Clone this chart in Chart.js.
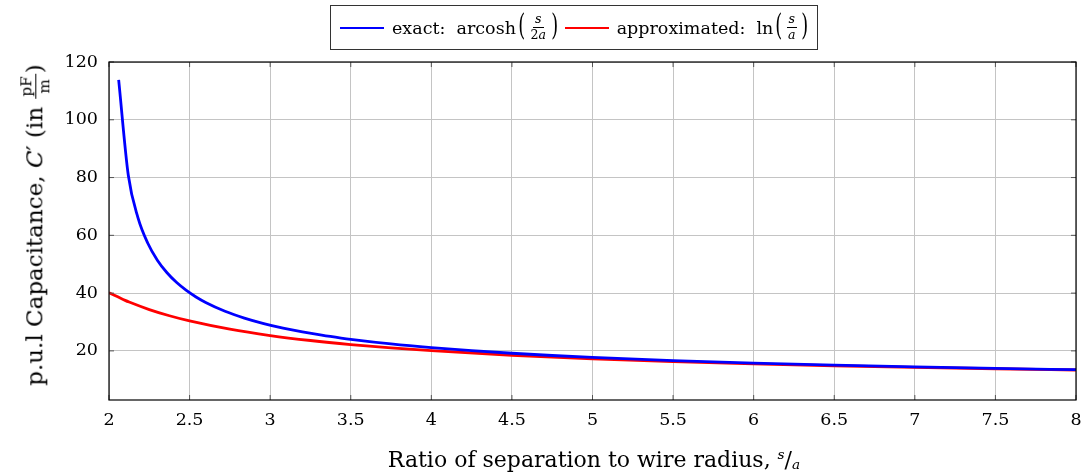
<!DOCTYPE html>
<html>
<head>
<meta charset="utf-8">
<script src="https://cdn.jsdelivr.net/npm/chart.js@4/dist/chart.umd.min.js"></script>
<style>
  html, body { margin: 0; padding: 0; background: #fff; }
  #wrap { position: relative; width: 1085px; height: 475px; font-family: "DejaVu Serif", serif; color: #000; }
  canvas { position: absolute; left: 0; top: 0; }
  .frac { display: inline-flex; flex-direction: column; align-items: center; vertical-align: middle; font-size: 72%; line-height: 1; margin: 0 1px; }
  .frac .num { padding: 0 2px 1px 2px; border-bottom: 1px solid #000; }
  .frac .den { padding: 1px 2px 0 2px; }
  .par { display: inline-block; font-size: 170%; transform: scaleX(0.6); vertical-align: middle; line-height: 1; position: relative; top: -3px; font-weight: 300; }
  #legend { position: absolute; left: 330px; top: 5px; width: 486px; height: 43px; border: 1px solid #333; font-size: 17.5px; display: flex; align-items: center; white-space: nowrap; }
  .sw { display: inline-block; width: 44px; height: 0; border-top: 2.8px solid; margin: 0 8px 0 9px; vertical-align: middle; }
  #ytitle { position: absolute; left: 36px; top: 225px; transform: translate(-50%, -50%) rotate(-90deg); font-size: 23px; white-space: nowrap; }
  #xtitle { position: absolute; left: 594px; top: 459px; transform: translate(-50%, -50%); font-size: 22px; white-space: nowrap; }
  .sup { font-size: 62%; vertical-align: 0.55em; font-style: italic; }
  .sub { font-size: 62%; vertical-align: -0.15em; font-style: italic; }
</style>
</head>
<body>
<div id="wrap">
  <canvas id="c" width="1085" height="475"></canvas>
  <div id="legend">
    <span class="sw" style="border-color:#0000ff"></span><span>exact:&nbsp; arcosh</span><span class="par">(</span><span class="frac"><span class="num"><i>s</i></span><span class="den">2<i>a</i></span></span><span class="par">)</span>
    <span class="sw" style="border-color:#ff0000; margin-left:4px"></span><span>approximated:&nbsp; ln</span><span class="par">(</span><span class="frac"><span class="num"><i>s</i></span><span class="den"><i>a</i></span></span><span class="par">)</span>
  </div>
  <div id="ytitle">p.u.l Capacitance, <i>C</i>′ (in <span class="frac" style="font-size:66%"><span class="num">pF</span><span class="den">m</span></span>)</div>
  <div id="xtitle">Ratio of separation to wire radius, <span class="sup">s</span>/<span class="sub">a</span></div>
</div>
<script>
// Exact: arcosh(s/2a) curve (s/a, pF/m)
const xExact = [2.06, 2.12, 2.18, 2.24, 2.30, 2.36, 2.42, 2.48, 2.54, 2.60, 2.72, 2.84, 2.96, 3.08, 3.20, 3.32, 3.44, 3.50, 3.75, 4.00, 4.25, 4.50, 4.75, 5.00, 5.50, 6.00, 6.50, 7.00, 7.50, 8.00];
const yExact = [113.8, 80.7, 66.05, 57.34, 51.41, 47.04, 43.65, 40.93, 38.67, 36.77, 33.72, 31.36, 29.46, 27.89, 26.57, 25.44, 24.45, 24.00, 22.40, 21.12, 20.07, 19.18, 18.41, 17.75, 16.66, 15.78, 15.06, 14.45, 13.93, 13.48];
// Approximated: ln(s/a) curve
const xApprox = [2.00, 2.10, 2.125, 2.25, 2.375, 2.50, 2.75, 3.00, 3.25, 3.50, 3.75, 4.00, 4.50, 5.00, 5.50, 6.00, 6.50, 7.00, 7.50, 8.00];
const yApprox = [40.13, 37.49, 36.90, 34.30, 32.16, 30.36, 27.50, 25.32, 23.60, 22.20, 21.04, 20.07, 18.49, 17.28, 16.32, 15.52, 14.86, 14.29, 13.81, 13.38];
const yTicks = [20, 40, 60, 80, 100, 120];

const pts = (xs, ys) => xs.map((x, i) => ({ x: x, y: ys[i] }));

const framePlugin = {
  id: 'frame',
  afterDatasetsDraw(chart) {
    const { ctx, chartArea: a, scales } = chart;
    ctx.save();
    ctx.strokeStyle = '#555';
    ctx.lineWidth = 1;
    ctx.beginPath();
    scales.x.ticks.forEach(t => {
      const px = scales.x.getPixelForValue(t.value);
      ctx.moveTo(px, a.bottom); ctx.lineTo(px, a.bottom - 5);
      ctx.moveTo(px, a.top); ctx.lineTo(px, a.top + 5);
    });
    scales.y.ticks.forEach(t => {
      const py = scales.y.getPixelForValue(t.value);
      ctx.moveTo(a.left, py); ctx.lineTo(a.left + 5, py);
      ctx.moveTo(a.right, py); ctx.lineTo(a.right - 5, py);
    });
    ctx.stroke();
    ctx.strokeStyle = '#000';
    ctx.lineWidth = 1.2;
    ctx.strokeRect(a.left, a.top, a.right - a.left, a.bottom - a.top);
    ctx.restore();
  }
};

new Chart(document.getElementById('c'), {
  type: 'line',
  data: {
    datasets: [
      { label: 'exact', data: pts(xExact, yExact), borderColor: '#0000ff', borderWidth: 2.8, pointRadius: 0, cubicInterpolationMode: 'monotone', fill: false },
      { label: 'approximated', data: pts(xApprox, yApprox), borderColor: '#ff0000', borderWidth: 2.8, pointRadius: 0, cubicInterpolationMode: 'monotone', fill: false }
    ]
  },
  options: {
    responsive: false,
    animation: false,
    devicePixelRatio: 1,
    layout: { padding: { top: 62, right: 9, left: 0, bottom: 0 } },
    plugins: { legend: { display: false }, tooltip: { enabled: false } },
    scales: {
      x: {
        type: 'linear', min: 2, max: 8,
        ticks: { stepSize: 0.5, padding: 10, color: '#000', font: { family: 'DejaVu Serif', size: 17.5 }, maxRotation: 0, callback: v => String(Number(v)) },
        grid: { color: '#c4c4c4', lineWidth: 1, drawTicks: false },
        border: { display: false },
        afterFit(s) { s.height = 75; s.paddingLeft = 0; s.paddingRight = 0; }
      },
      y: {
        type: 'linear', min: 3, max: 120,
        afterBuildTicks(s) { s.ticks = yTicks.map(v => ({ value: v })); },
        ticks: { padding: 11, color: '#000', font: { family: 'DejaVu Serif', size: 17.5 } },
        grid: { color: '#c4c4c4', lineWidth: 1, drawTicks: false },
        border: { display: false },
        afterFit(s) { s.width = 109; s.paddingTop = 0; s.paddingBottom = 0; }
      }
    }
  },
  plugins: [framePlugin]
});
</script>
</body>
</html>
